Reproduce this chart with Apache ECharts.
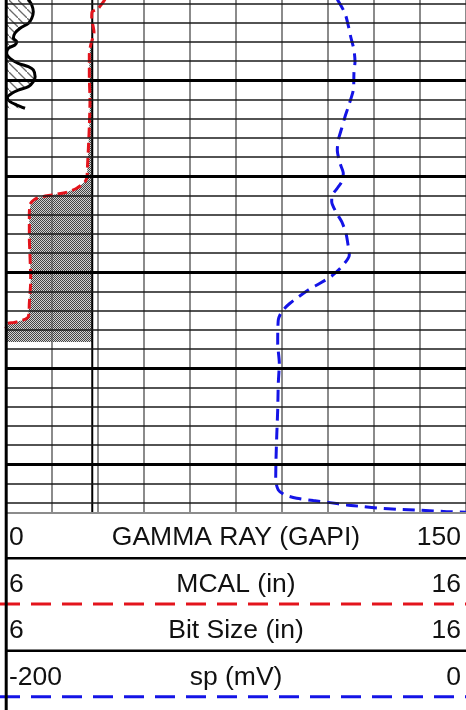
<!DOCTYPE html>
<html><head><meta charset="utf-8">
<script src="https://cdn.jsdelivr.net/npm/echarts@6/dist/echarts.min.js"></script>
<style>html,body{margin:0;padding:0;background:#fff}#c{width:466px;height:710px}</style>
</head><body><div id="c"></div>
<script>
// ---------- data (depth in ft, top of view ~5001.66 ft) ----------
const grDepth = [5001.60,5002.18,5002.87,5003.56,5004.08,5004.60,5005.12,5005.64,5006.00,5006.34,5006.69,5007.21,5007.73,5008.25,5008.60,5008.94,5009.64,5010.16,5010.68,5011.03,5011.37,5011.83,5012.24,5012.59,5012.93];
const grValue = [7.3,8.4,8.9,8.4,7.3,4.6,2.9,2.4,3.5,2.9,0.75,0.2,1.3,4.0,7.3,8.9,9.5,8.9,7.3,4.0,1.9,0.4,1.3,3.5,6.2];

const calDepth = [5001.60,5002.52,5002.91,5003.53,5004.99,5006.34,5007.38,5009.64,5012.07,5014.85,5017.27,5019.01,5020.05,5020.57,5021.26,5021.72,5021.96,5022.30,5022.82,5023.86,5026.30,5028.38,5030.81,5033.23,5034.63,5034.97,5035.25,5035.31,5036.01,5037.26];
const calValue = [8.152,8.007,7.870,7.863,7.913,7.841,7.811,7.811,7.826,7.811,7.789,7.771,7.760,7.717,7.537,7.283,6.993,6.667,6.537,6.507,6.507,6.522,6.537,6.507,6.485,6.376,6.159,6.050,5.9,5.9];

const bitDepth = [5001.60, 5055.10];
const bitValue = [7.875, 7.875];

const spDepth = [5001.60,5003.04,5004.78,5005.48,5006.86,5008.08,5009.12,5011.03,5012.77,5013.81,5015.01,5016.23,5017.27,5018.66,5019.70,5020.57,5021.26,5022.13,5022.66,5023.86,5024.74,5025.95,5027.34,5028.20,5029.42,5030.39,5031.15,5031.85,5033.23,5034.11,5034.97,5037.40,5039.48,5041.56,5044.34,5047.12,5049.55,5051.63,5052.67,5053.19,5053.53,5053.78,5053.99,5054.23,5054.41,5054.58,5054.68,5054.78,5054.93,5054.99];
const spValue = [-55.96,-52.61,-50.74,-50.13,-48.70,-48.26,-48.70,-49.00,-51.17,-52.61,-54.04,-55.52,-55.96,-54.78,-53.35,-54.04,-55.96,-58.39,-58.39,-56.22,-54.04,-52.17,-51.17,-50.74,-54.04,-58.39,-63.48,-68.57,-76.52,-80.13,-81.61,-81.87,-81.17,-81.61,-81.87,-82.30,-82.61,-82.74,-81.61,-78.70,-73.61,-66.39,-59.13,-51.87,-44.65,-37.39,-30.13,-20.00,-8.39,0.5];

// depth grid lines
const minorDepths = [5002,5004,5006,5008,5012,5014,5016,5018,5022,5024,5026,5028,5032,5034,5036,5038,5042,5044,5046,5048,5052,5054];
const majorDepths = [5010,5020,5030,5040,5050];

// header scale labels
const scaleLeft  = ['0', '6', '6', '-200'];
const scaleTitle = ['GAMMA RAY (GAPI)', 'MCAL (in)', 'Bit Size (in)', 'sp (mV)'];
const scaleRight = ['150', '16', '16', '0'];

const depthTop = 5001.656, depthBottom = 5055.07;

// ---------- patterns ----------
function checker(){
  const c=document.createElement('canvas');c.width=2;c.height=2;
  const g=c.getContext('2d');g.fillStyle='#454545';g.fillRect(0,0,1,1);g.fillRect(1,1,1,1);
  g.fillStyle='rgba(165,165,165,0.5)';g.fillRect(1,0,1,1);g.fillRect(0,1,1,1);
  return c;
}
function hatch(){
  const n=9;const c=document.createElement('canvas');c.width=n;c.height=n;
  const g=c.getContext('2d');g.strokeStyle='#6a6a6a';g.lineWidth=1.3;
  g.beginPath();g.moveTo(-2,-2);g.lineTo(n+2,n+2);g.stroke();
  return c;
}
const checkerPat = {type:'pattern', image: checker(), repeat:'repeat'};
const hatchPat = {type:'pattern', image: hatch(), repeat:'repeat'};

const RED = '#e3141c', BLUE = '#1414e6';
const FONT = '26.5px "Liberation Sans", Arial, sans-serif';

const chart = echarts.init(document.getElementById('c'), null, {renderer:'canvas'});

const gridLines = majorDepths.map(d => ({yAxis:d, lineStyle:{color:'#000', width:3, type:'solid'}}))
  .concat(minorDepths.map(d => ({yAxis:d, lineStyle:{color:'#1a1a1a', width:1.5, type:'solid'}})));

// header graphics
const rowCY = [537.5, 585, 630.5, 677.5];
const graphics = [];
rowCY.forEach((cy,i)=>{
  graphics.push({type:'text', x:9, y:cy, style:{text:scaleLeft[i], font:FONT, fill:'#111', textAlign:'left', textVerticalAlign:'middle'}});
  graphics.push({type:'text', x:236, y:cy, style:{text:scaleTitle[i], font:FONT, fill:'#111', textAlign:'center', textVerticalAlign:'middle'}});
  graphics.push({type:'text', x:461, y:cy, style:{text:scaleRight[i], font:FONT, fill:'#111', textAlign:'right', textVerticalAlign:'middle'}});
});
graphics.push({type:'line', shape:{x1:6,y1:513,x2:466,y2:513}, style:{stroke:'#8c8c8c', lineWidth:2}, z:10});
graphics.push({type:'line', shape:{x1:6,y1:558.3,x2:466,y2:558.3}, style:{stroke:'#000', lineWidth:2.5}, z:10});
graphics.push({type:'line', shape:{x1:0,y1:604,x2:466,y2:604}, style:{stroke:RED, lineWidth:3, lineDash:[20,11]}, z:10});
graphics.push({type:'line', shape:{x1:6,y1:650.7,x2:466,y2:650.7}, style:{stroke:'#000', lineWidth:2.5}, z:10});
graphics.push({type:'line', shape:{x1:0,y1:696.7,x2:466,y2:696.7}, style:{stroke:BLUE, lineWidth:3, lineDash:[20,11]}, z:10});
graphics.push({type:'line', shape:{x1:6.2,y1:0,x2:6.2,y2:710}, style:{stroke:'#000', lineWidth:3}, z:20});

function pairs(vals, depths){ return depths.map((d,i)=>[vals[i], d]); }

chart.setOption({
  animation:false,
  backgroundColor:'#fff',
  grid:{left:6, top:0, width:460, height:513, containLabel:false, outerBoundsMode:'none'},
  xAxis:[
    {type:'value', min:6, max:16, interval:1, position:'top',
     axisLine:{show:false}, axisTick:{show:false}, axisLabel:{show:false},
     splitLine:{show:true, lineStyle:{color:'#6e6e6e', width:1.6}}},
    {type:'value', min:0, max:150, show:false, splitLine:{show:false}},
    {type:'value', min:-200, max:0, show:false, splitLine:{show:false}}
  ],
  yAxis:{type:'value', inverse:true, min:depthTop, max:depthBottom,
    axisLine:{show:false}, axisTick:{show:false}, axisLabel:{show:false}, splitLine:{show:false}},
  graphic:graphics,
  series:[
    {type:'line', xAxisIndex:0, z:1, data:[[6,depthTop]], showSymbol:false, lineStyle:{opacity:0}, silent:true,
     markLine:{silent:true, symbol:['none','none'], label:{show:false}, animation:false, data:gridLines}},
    {type:'custom', xAxisIndex:1, z:2, clip:true, data:[[0, grDepth[0]]],
     renderItem:function(params, api){
       const pts = grDepth.map((d,i)=>api.coord([grValue[i], d]));
       pts.push(api.coord([0, grDepth[grDepth.length-1]]));
       pts.push(api.coord([0, grDepth[0]]));
       return {type:'polygon', shape:{points:pts}, style:{fill:hatchPat, stroke:null}};
     }},
    {type:'custom', xAxisIndex:0, z:2, clip:true, data:[[6, calDepth[0]]],
     renderItem:function(params, api){
       const bit = bitValue[0];
       const pts = calDepth.map((d,i)=>api.coord([Math.max(6, Math.min(calValue[i], bit)), d]));
       pts.push(api.coord([bit, calDepth[calDepth.length-1]]));
       pts.push(api.coord([bit, calDepth[0]]));
       return {type:'polygon', shape:{points:pts}, style:{fill:checkerPat, stroke:null}};
     }},
    {type:'line', name:'GAMMA RAY', xAxisIndex:1, z:3, data:pairs(grValue, grDepth), showSymbol:false, smooth:0.3,
     lineStyle:{color:'#000', width:3}},
    {type:'line', name:'Bit Size', xAxisIndex:0, z:3, data:pairs(bitValue, bitDepth), showSymbol:false,
     lineStyle:{color:'#000', width:2}},
    {type:'line', name:'MCAL', xAxisIndex:0, z:4, data:pairs(calValue, calDepth), showSymbol:false, smooth:0.25,
     lineStyle:{color:RED, width:3, type:[10,5]}},
    {type:'line', name:'sp', xAxisIndex:2, z:4, data:pairs(spValue, spDepth), showSymbol:false, smooth:0.25,
     lineStyle:{color:BLUE, width:3, type:[12,7]}}
  ]
});
</script></body></html>
